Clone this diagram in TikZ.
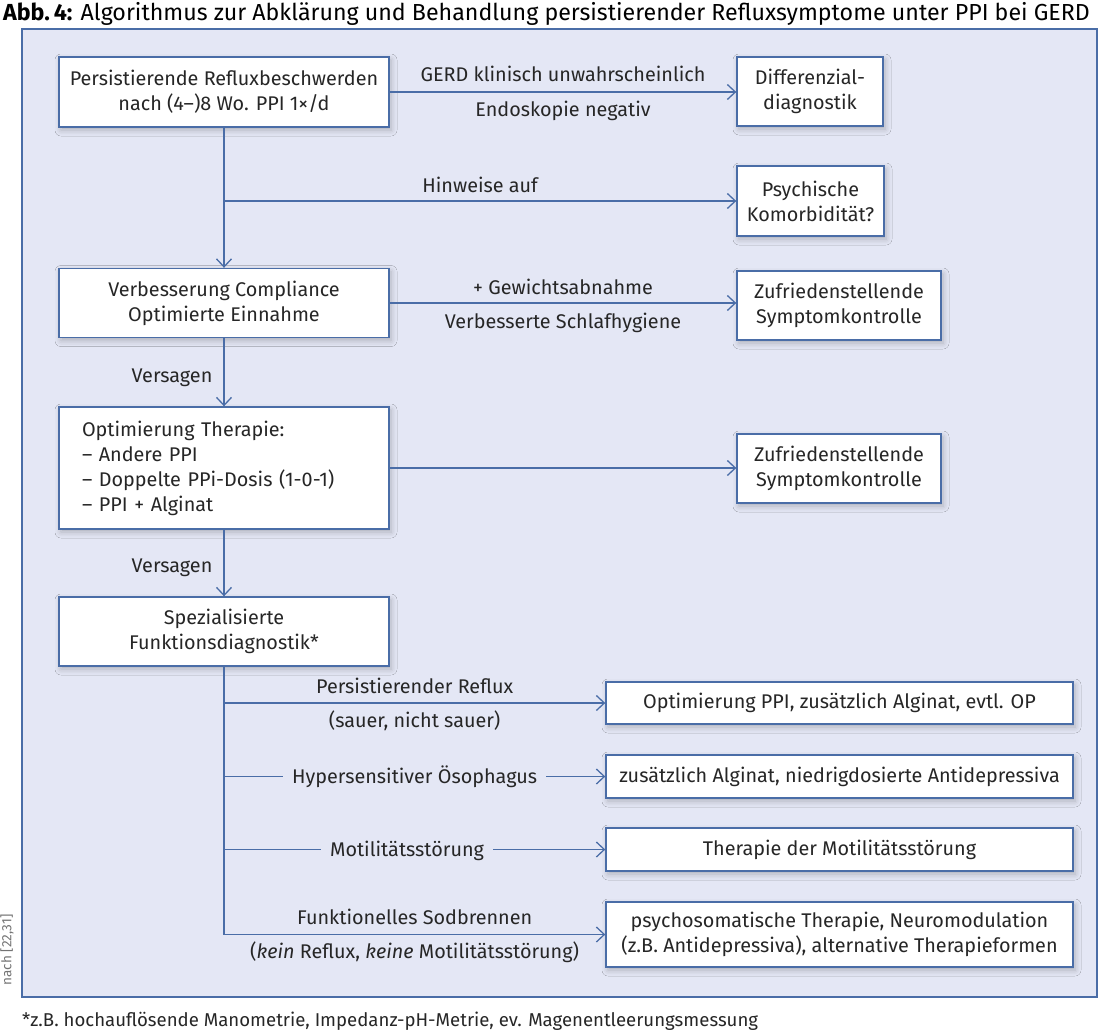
\documentclass[tikz,border=0pt]{standalone}
\usepackage{fontspec}
\setmainfont{Fira Sans}
\usetikzlibrary{arrows.meta,shadows.blur,calc}
\definecolor{panelbg}{HTML}{E4E7F5}
\definecolor{lineblue}{HTML}{4A6DA7}
\definecolor{txt}{HTML}{262626}
\begin{document}
\begin{tikzpicture}[x=1pt,y=-1pt,
  every node/.style={text=txt, font=\fontsize{19.8}{25}\selectfont},
  box/.style={draw=lineblue, line width=1.4pt, fill=white, inner sep=0pt, align=center,
    blur shadow={shadow xshift=2pt, shadow yshift=-3pt, shadow blur radius=6pt, shadow opacity=25}},
  conn/.style={draw=lineblue, line width=1.3pt},
  arr/.style={conn, -{Straight Barb[length=8pt,width=15pt,line width=1.3pt]}},
  lbl/.style={inner sep=0pt, anchor=base},
  inl/.style={fill=panelbg, inner xsep=9pt, inner ysep=3pt, anchor=base, yshift=-6.8pt},
  side/.style={box, minimum width=467pt, minimum height=43pt}
]
\useasboundingbox (0,0) rectangle (1100,1031);
% title
\node[anchor=base west, inner sep=0pt, text=black] (title) at (3,20)
  {\fontsize{23.2}{26}\selectfont\textbf{Abb.\,4:} Algorithmus zur Abklärung und Behandlung persistierender Refluxsymptome unter PPI bei GERD};
% panel
\draw[draw=lineblue, line width=1.4pt, fill=panelbg] (22,29) rectangle (1097,997);
% left column
\node[box, minimum width=330pt, minimum height=70pt] (b1) at (224,92) {Persistierende Refluxbeschwerden\\nach (4–)8 Wo. PPI 1×/d};
\node[box, minimum width=330pt, minimum height=69pt] (b2) at (224,303) {Verbesserung Compliance\\Optimierte Einnahme};
\node[box, minimum height=122pt, text width=284pt, inner xsep=23pt, align=left] (b3) at (224,468)
  {Optimierung Therapie:\\– Andere PPI\\– Doppelte PPi-Dosis (1-0-1)\\– PPI + Alginat};
\node[box, minimum width=330pt, minimum height=69pt] (b4) at (224,631.5) {Spezialisierte\\Funktionsdiagnostik*};
% right column
\node[box, minimum width=146pt, minimum height=69pt] (diff) at (810,91.5) {Differenzial-\\diagnostik};
\node[box, minimum width=147pt, minimum height=70pt] (psy) at (810.5,201) {Psychische\\Komorbidität?};
\node[box, minimum width=204pt, minimum height=69pt] (z1) at (839,305.5) {Zufriedenstellende\\Symptomkontrolle};
\node[box, minimum width=204pt, minimum height=69pt] (z2) at (839,468.5) {Zufriedenstellende\\Symptomkontrolle};
\node[side, minimum height=42pt] (r1) at (839.5,703) {Optimierung PPI, zusätzlich Alginat, evtl. OP};
\node[side] (r2) at (839.5,776.5) {zusätzlich Alginat, niedrigdosierte Antidepressiva};
\node[side] (r3) at (839.5,849.5) {Therapie der Motilitätsstörung};
\node[side, minimum height=65pt] (r4) at (839.5,934.5) {psychosomatische Therapie, Neuromodulation\\(z.B. Antidepressiva), alternative Therapieformen};
% junctions
\coordinate (j1) at (b1.south |- psy.west);
\coordinate (j5) at (b4.south |- r1.west);
\coordinate (j6) at (b4.south |- r2.west);
\coordinate (j7) at (b4.south |- r3.west);
\coordinate (j8) at (b4.south |- r4.west);
% connectors
\draw[arr] (b1.east) -- node[lbl, midway, yshift=10.6pt] (l1) {GERD klinisch unwahrscheinlich}
  node[lbl, midway, yshift=-24.9pt] (l2) {Endoskopie negativ} (b1.east -| diff.west);
\draw[arr] (b1.south) -- (b2.north);
\draw[arr] (j1) -- node[lbl, midway, yshift=8.6pt] (l3) {Hinweise auf} (psy.west);
\draw[arr] (b2.east) -- node[lbl, midway, yshift=8.1pt] (l4) {+ Gewichtsabnahme}
  node[lbl, midway, yshift=-25.9pt] (l5) {Verbesserte Schlafhygiene} (b2.east -| z1.west);
\draw[arr] (b2.south) -- node[lbl, midway, anchor=base east, xshift=-11pt, yshift=-10.4pt] (l6) {Versagen} (b3.north);
\draw[arr] (b3.east) -- (b3.east -| z2.west);
\draw[arr] (b3.south) -- node[lbl, midway, anchor=base east, xshift=-11pt, yshift=-9.4pt] (l7) {Versagen} (b4.north);
\draw[conn] (b4.south) -- (j8);
\draw[arr] (j5) -- node[lbl, midway, yshift=9.6pt] (l8) {Persistierender Reflux}
  node[lbl, midway, yshift=-24.9pt] (l9) {(sauer, nicht sauer)} (r1.west);
\draw[arr] (j6) -- node[inl, midway] (l10) {Hypersensitiver Ösophagus} (r2.west);
\draw[arr] (j7) -- node[inl, pos=0.48] (l11) {Motilitätsstörung} (r3.west);
\draw[arr] (j8) -- node[lbl, midway, yshift=9.6pt] (l12) {Funktionelles Sodbrennen}
  node[lbl, midway, yshift=-24.4pt] (l13) {(\textit{kein} Reflux, \textit{keine} Motilitätsstörung)} (r4.west);
% footnote and source
\node[anchor=base west, inner sep=0pt, font=\fontsize{18.6}{20}\selectfont] (fn) at (22,1026.5)
  {*z.B. hochauflösende Manometrie, Impedanz-pH-Metrie, ev. Magenentleerungsmessung};
\node[rotate=90, inner sep=0pt, text=black!55, font=\fontsize{13.5}{14}\selectfont] (src) at (7,950) {nach [22,31]};
\end{tikzpicture}
\end{document}
